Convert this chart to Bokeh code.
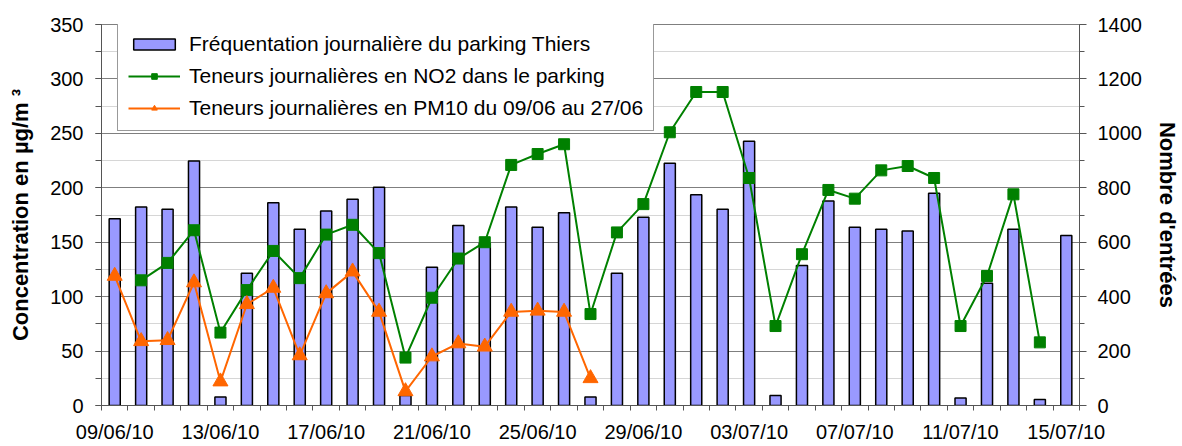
from bokeh.plotting import figure
from bokeh.models import Range1d, LinearAxis, FixedTicker, Legend, LegendItem, ColumnDataSource
from bokeh.embed import file_html
from bokeh.resources import INLINE

nan = float("nan")

dates = ["09/06/10", "10/06/10", "11/06/10", "12/06/10", "13/06/10", "14/06/10",
         "15/06/10", "16/06/10", "17/06/10", "18/06/10", "19/06/10", "20/06/10",
         "21/06/10", "22/06/10", "23/06/10", "24/06/10", "25/06/10", "26/06/10",
         "27/06/10", "28/06/10", "29/06/10", "30/06/10", "01/07/10", "02/07/10",
         "03/07/10", "04/07/10", "05/07/10", "06/07/10", "07/07/10", "08/07/10",
         "09/07/10", "10/07/10", "11/07/10", "12/07/10", "13/07/10", "14/07/10",
         "15/07/10"]

# Daily parking entries (right axis)
entries = [686, 729, 721, 898, 31, 486, 745, 648, 715, 758, 802, 37, 508, 661,
           596, 729, 655, 708, 31, 486, 692, 890, 774, 721, 971, 37, 514, 751,
           655, 648, 641, 780, 28, 449, 648, 22, 625]

# NO2 daily concentration (left axis)
no2 = [nan, 115, 131, 161, 67, 106, 142, 117, 157, 166, 140, 44, 99, 135, 150,
       221, 231, 240, 84, 159, 185, 251, 288, 288, 209, 73, 139, 198, 190, 216,
       220, 209, 73, 119, 194, 58, nan]

# PM10 daily concentration 09/06 -> 27/06 (left axis)
pm10 = [119, 59, 60, 113, 22, 93, 108, 46, 103, 123, 86, 13, 45, 57, 54, 86,
        87, 86, 25] + [nan] * 18

label_bars = "Fréquentation journalière du parking Thiers"
label_no2 = "Teneurs journalières en NO2 dans le parking"
label_pm10 = "Teneurs journalières en PM10 du 09/06 au 27/06"

x = list(range(len(dates)))
src = ColumnDataSource(dict(x=x, entries=entries, no2=no2, pm10=pm10))

FONT = "Liberation Sans"
AXIS_COLOR = "#555555"
TICK_SIZE = "20px"

p = figure(width=1182, height=446, output_backend="svg", toolbar_location=None,
           x_range=Range1d(-0.5, len(dates) - 0.5), y_range=Range1d(0, 350),
           min_border_left=101, min_border_right=99, min_border_top=24,
           min_border_bottom=41)
p.extra_y_ranges = {"right": Range1d(0, 1400)}
p.background_fill_color = "white"
p.border_fill_color = "white"
p.outline_line_color = "#7F7F7F"

# grid
p.xgrid.visible = False
p.ygrid.ticker = FixedTicker(ticks=list(range(0, 351, 50)), minor_ticks=list(range(0, 351, 25)))
p.ygrid.grid_line_color = "#7F7F7F"
p.ygrid.minor_grid_line_color = "#D6D6D6"

# bars
bars = p.vbar(x="x", top="entries", width=0.42, source=src, y_range_name="right",
              fill_color="#9999FF", line_color="black", line_width=1.5)
# NO2
l_no2 = p.line("x", "no2", source=src, line_color="#008000", line_width=2)
s_no2 = p.scatter("x", "no2", source=src, marker="square", size=11,
                  fill_color="#008000", line_color="#008000")
# PM10
l_pm = p.line("x", "pm10", source=src, line_color="#FF6600", line_width=2)
s_pm = p.scatter("x", "pm10", source=src, marker="triangle", size=15,
                 fill_color="#FF6600", line_color="#FF6600")

# x axis
xa = p.xaxis[0]
xa.ticker = FixedTicker(ticks=list(range(0, len(dates), 4)),
                        minor_ticks=[i - 0.5 for i in range(len(dates) + 1)])
xa.major_label_overrides = {i: dates[i] for i in range(0, len(dates), 4)}
xa.major_tick_out = 0
xa.major_tick_in = 0
xa.minor_tick_out = 5
xa.minor_tick_in = 0
xa.major_label_standoff = 10
xa.major_label_text_font = FONT
xa.major_label_text_font_size = TICK_SIZE
xa.major_label_text_color = "black"
xa.axis_line_color = AXIS_COLOR
xa.minor_tick_line_color = AXIS_COLOR

# left axis
ya = p.yaxis[0]
ya.ticker = FixedTicker(ticks=list(range(0, 351, 50)), minor_ticks=list(range(0, 351, 25)))
ya.major_tick_out = 6
ya.major_tick_in = 0
ya.minor_tick_out = 6
ya.minor_tick_in = 0
ya.major_label_standoff = 12
ya.major_label_text_font = FONT
ya.major_label_text_font_size = TICK_SIZE
ya.major_label_text_color = "black"
ya.axis_line_color = AXIS_COLOR
ya.major_tick_line_color = AXIS_COLOR
ya.minor_tick_line_color = AXIS_COLOR
ya.axis_label = "Concentration en µg/m ³"
ya.axis_label_text_font = FONT
ya.axis_label_text_font_size = "22px"
ya.axis_label_text_font_style = "bold"
ya.axis_label_text_color = "black"
ya.axis_label_standoff = 14

# right axis
ra = LinearAxis(y_range_name="right",
                ticker=FixedTicker(ticks=list(range(0, 1401, 200)),
                                   minor_ticks=list(range(0, 1401, 100))))
ra.major_tick_out = 7
ra.major_tick_in = 0
ra.minor_tick_out = 5
ra.minor_tick_in = 0
ra.major_label_standoff = 11
ra.major_label_text_font = FONT
ra.major_label_text_font_size = TICK_SIZE
ra.major_label_text_color = "black"
ra.axis_line_color = AXIS_COLOR
ra.major_tick_line_color = AXIS_COLOR
ra.minor_tick_line_color = AXIS_COLOR
ra.axis_label = "Nombre d'entrées"
ra.axis_label_text_font = FONT
ra.axis_label_text_font_size = "22px"
ra.axis_label_text_font_style = "bold"
ra.axis_label_text_color = "black"
ra.axis_label_standoff = 10
p.add_layout(ra, "right")

legend = Legend(items=[
    LegendItem(label=label_bars, renderers=[bars]),
    LegendItem(label=label_no2, renderers=[l_no2, s_no2]),
    LegendItem(label=label_pm10, renderers=[l_pm, s_pm]),
], location=(16, 274))
legend.label_text_font = FONT
legend.label_text_font_size = "21px"
legend.label_text_color = "black"
legend.glyph_width = 52
legend.glyph_height = 14
legend.label_standoff = 9
legend.label_height = 21
legend.spacing = 8
legend.padding = 10
legend.border_line_color = "#333333"
legend.border_line_width = 1
legend.background_fill_color = "white"
legend.background_fill_alpha = 1.0
p.add_layout(legend)

open("out.html", "w").write(file_html(p, INLINE))
